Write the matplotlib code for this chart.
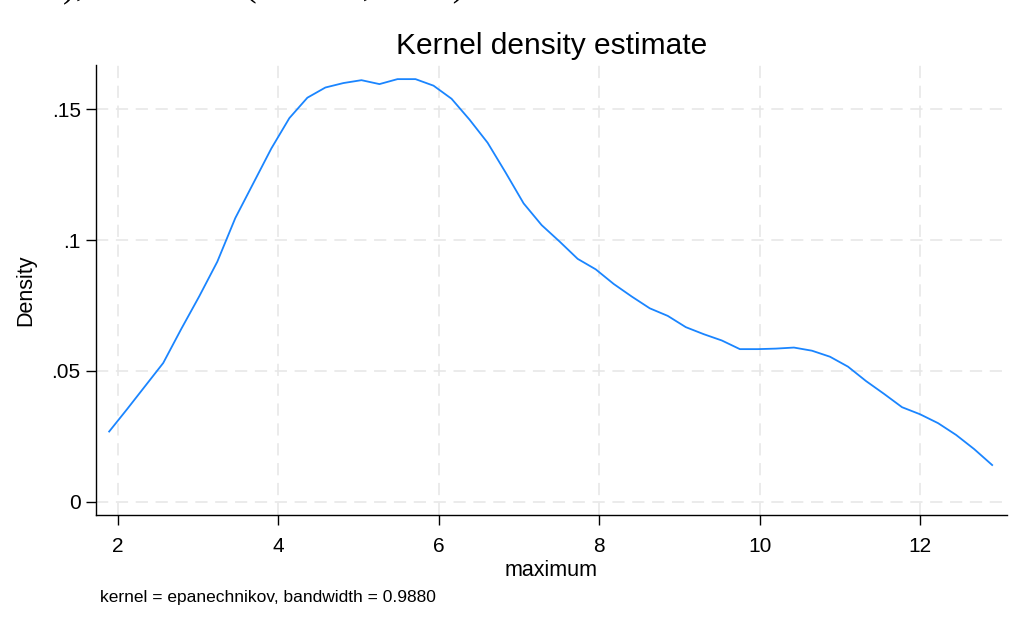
import matplotlib
matplotlib.use("Agg")
from matplotlib import pyplot as plt
from matplotlib.ticker import FuncFormatter
import numpy as np

plt.rcParams['font.family'] = ['Liberation Sans', 'DejaVu Sans']

# kernel density estimate, 50 evaluation points
x_start = 1.89
x_end = 12.895
density = [0.0268, 0.0354, 0.0442, 0.0530, 0.0660, 0.0785, 0.0917, 0.1084,
           0.1217, 0.1350, 0.1466, 0.1544, 0.1583, 0.1600, 0.1611, 0.1596,
           0.1615, 0.1615, 0.1590, 0.1540, 0.1460, 0.1372, 0.1258, 0.1140,
           0.1057, 0.0994, 0.0928, 0.0888, 0.0832, 0.0784, 0.0739, 0.0710,
           0.0667, 0.0640, 0.0616, 0.0583, 0.0583, 0.0585, 0.0589, 0.0577,
           0.0554, 0.0516, 0.0461, 0.0412, 0.0361, 0.0334, 0.0300, 0.0255,
           0.0201, 0.0140]
xgrid = np.linspace(x_start, x_end, len(density))

xticks = [2, 4, 6, 8, 10, 12]
yticks = [0, 0.05, 0.1, 0.15]
ytick_labels = ['0', '.05', '.1', '.15']

fig = plt.figure(figsize=(10.14, 6.28), dpi=100)
ax = fig.add_axes([96 / 1014, 113 / 628, 911 / 1014, 450 / 628])

ax.plot(xgrid, density, color='#1a85ff', lw=1.3)

ax.set_xlim(1.726, 13.08)
ax.set_ylim(-0.0051, 0.1669)
ax.set_xticks(xticks)
ax.set_yticks(yticks)
ax.yaxis.set_major_formatter(FuncFormatter(lambda v, p: ytick_labels[yticks.index(round(v, 2))] if round(v, 2) in yticks else ''))

ax.grid(True, color='#e6e6e6', lw=1.1, ls=(0, (8, 5)))
ax.set_axisbelow(True)
for s in ['top', 'right']:
    ax.spines[s].set_visible(False)
for s in ['left', 'bottom']:
    ax.spines[s].set_linewidth(1.0)
ax.tick_params(axis='both', labelsize=15, length=7, width=1.0)
ax.tick_params(axis='x', pad=9)
ax.tick_params(axis='y', pad=4)

ax.set_xlabel('maximum', fontsize=15.5, labelpad=3)
ax.set_ylabel('Density', fontsize=15.5, labelpad=11)
ax.set_title('Kernel density estimate', fontsize=21.5, pad=8)

fig.text(100 / 1014, 1 - 602 / 628, 'kernel = epanechnikov, bandwidth = 0.9880',
         fontsize=12.5, ha='left', va='baseline')

# bits of a line of text cut off at the top edge of the picture
top_y = 1 + 4 / 628
fig.text(76 / 1014, top_y, 'on)', fontsize=26, family='Liberation Serif',
         ha='right', va='baseline')
fig.text(76 / 1014, top_y, ', where the (median, scale)', fontsize=26,
         family='Liberation Serif', ha='left', va='baseline')

fig.savefig('out.png', dpi=100)
